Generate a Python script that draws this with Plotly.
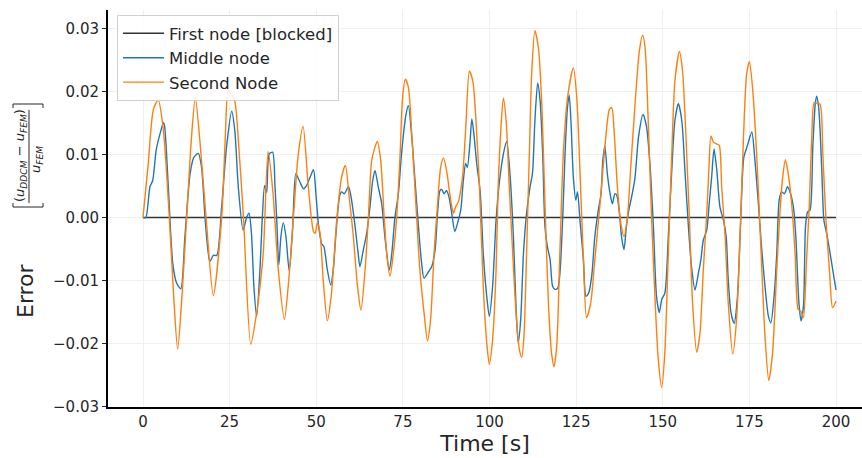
import plotly.graph_objects as go

# Relative error of the two tracked nodes against the FEM reference
t_first = [0, 200]
err_first = [0.0, 0.0]

t_mid = [0, 0.8, 2.0, 2.8, 3.8, 4.9, 5.9, 6.25, 7.3, 8.6, 9.7, 10.9, 12.1, 13.6, 14.7, 15.96, 16.9, 17.9,
         19.3, 20.3, 21.3, 22.7, 24.1, 25.6, 26.5, 27.5, 28.9, 29.9, 30.6, 31.3, 32.0, 32.8, 33.75, 34.4,
         35.1, 35.7, 36.4, 37.4, 38.1, 38.6, 39.2, 39.8, 40.5, 41.25, 42.2, 43.2, 44.1, 45.1, 46.3, 47.2,
         48.2, 49.2, 49.9, 50.6, 51.6, 52.2, 53.2, 54.2, 54.9, 55.7, 56.7, 57.3, 58.1, 59.3, 60.2, 61.2,
         62.1, 62.6, 63.6, 64.55, 65.5, 66.3, 66.95, 67.9, 68.9, 69.8, 71.1, 71.8, 72.7, 73.7, 74.6, 75.9,
         76.6, 77.5, 78.5, 79.5, 80.4, 81.1, 82.4, 83.3, 84.3, 85.0, 85.7, 86.2, 86.9, 87.6, 88.3, 89.1,
         90.0, 91.0, 91.7, 92.45, 93.1, 93.6, 94.4, 94.9, 95.5, 96.3, 97.3, 98.2, 99.2, 99.95, 100.9,
         101.9, 102.8, 104.0, 104.95, 105.9, 106.9, 107.8, 108.3, 109.0, 109.8, 110.7, 111.7, 112.4,
         113.1, 113.9, 114.6, 115.35, 116.0, 116.7, 117.5, 118.2, 118.9, 119.7, 120.3, 121.1, 121.8,
         122.5, 123.0, 123.5, 124.2, 124.9, 125.4, 126.1, 127.1, 127.85, 128.6, 129.5, 130.4, 131.4,
         132.2, 132.7, 133.3, 134.0, 134.8, 135.45, 136.2, 136.7, 137.4, 138.1, 138.8, 139.6, 140.4,
         141.2, 142.0, 143.0, 144.3, 145.3, 146.3, 147.3, 148.2, 149.0, 149.7, 150.6, 151.6, 152.6,
         153.5, 154.5, 155.5, 156.4, 157.4, 158.3, 159.3, 160.3, 161.0, 161.7, 162.7, 163.4, 164.1,
         164.8, 165.6, 166.5, 167.5, 168.3, 168.9, 169.7, 170.6, 171.5, 172.5, 173.4, 174.4, 175.7,
         176.6, 177.6, 178.5, 179.5, 180.5, 181.2, 182.2, 182.9, 183.6, 184.3, 185.1, 186.0, 186.7,
         187.7, 188.4, 189.3, 189.9, 190.6, 191.2, 191.8, 192.5, 193.3, 194.0, 194.4, 195.0, 195.9,
         196.5, 197.3, 198.3, 199.2, 200.0]
err_mid = [0.0, 0.0, 0.0049, 0.0059, 0.0107, 0.0133, 0.0151, 0.0145, 0.0049, -0.0073, -0.0104, -0.0113,
           -0.003, 0.007, 0.0096, 0.0102, 0.008, 0.0, -0.007, -0.006, -0.006, 0.0017, 0.0112, 0.0169,
           0.0138, 0.0049, -0.002, 0.0, 0.0007, -0.0025, -0.0109, -0.0157, -0.0083, -0.0004, 0.0051,
           0.004, 0.0101, 0.0104, 0.0049, -0.0004, -0.0075, -0.003, -0.0008, -0.003, -0.0085, -0.0015,
           0.007, 0.0059, 0.0046, 0.0051, 0.0064, 0.0076, 0.0038, -0.0009, -0.0042, -0.0046, -0.0083,
           -0.0107, -0.0083, -0.0025, 0.0033, 0.0041, 0.0038, 0.0049, 0.0028, -0.0014, -0.0057, -0.0078,
           -0.0051, -0.0025, 0.0017, 0.0059, 0.0075, 0.0049, 0.0022, -0.003, -0.0083, -0.0057, 0.0,
           0.0038, 0.0101, 0.0164, 0.0178, 0.0133, 0.0059, -0.0014, -0.0072, -0.0096, -0.0086, -0.0078,
           -0.0051, 0.0007, 0.0043, 0.0045, 0.0038, 0.0043, 0.0033, 0.0007, -0.0022, -0.0004, 0.0012,
           0.0059, 0.0086, 0.008, 0.0122, 0.0157, 0.0133, 0.0086, 0.0042, -0.0057, -0.0125, -0.0157,
           -0.0109, -0.0004, 0.0054, 0.0101, 0.0121, 0.007, -0.003, -0.0162, -0.0199, -0.0162, -0.0057,
           0.0007, 0.0049, 0.007, 0.0154, 0.0214, 0.0186, 0.0101, -0.0014, -0.0046, -0.0067, -0.0109,
           -0.0114, -0.0112, -0.009, -0.0004, 0.0101, 0.0175, 0.0195, 0.0154, 0.0064, 0.0028, 0.0041,
           -0.0004, -0.0067, -0.0125, -0.012, -0.0093, -0.003, 0.0012, 0.0038, 0.0091, 0.0114, 0.007,
           0.0038, 0.0022, 0.0038, 0.0036, 0.0012, -0.003, -0.0051, -0.0009, 0.0017, 0.0038, 0.0064,
           0.0128, 0.0164, 0.0145, 0.0085, -0.0014, -0.0125, -0.0151, -0.013, -0.012, -0.003, 0.0075,
           0.0154, 0.0181, 0.0154, 0.0075, -0.0014, -0.0078, -0.0115, -0.0088, -0.0067, -0.0036, -0.002,
           0.0022, 0.0064, 0.0109, 0.0075, 0.0017, -0.0004, -0.003, -0.0099, -0.0151, -0.0168, -0.013,
           -0.0004, 0.0096, 0.0114, 0.0136, 0.0091, 0.0022, -0.0046, -0.0109, -0.0157, -0.0167, -0.012,
           -0.0057, 0.0028, 0.0041, 0.0038, 0.0049, 0.0041, 0.0017, -0.003, -0.0136, -0.0164, -0.0141,
           -0.0014, 0.0009, 0.0012, 0.0112, 0.018, 0.0193, 0.0175, 0.0075, -0.0004, -0.0025, -0.0057,
           -0.0088, -0.0115]

t_second = [0, 1.5, 3.0, 4.4, 5.9, 7.6, 8.8, 10.0, 11.3, 12.6, 13.9, 15.1, 16.6, 18.2, 20.3, 22.7, 23.7,
            24.6, 25.6, 26.5, 27.8, 29.0, 31.1, 32.8, 34.7, 36.1, 37.5, 39.0, 40.8, 42.2, 43.4, 44.8,
            46.2, 47.7, 49.2, 49.7, 50.3, 51.1, 52.0, 53.2, 54.4, 55.9, 57.3, 58.4, 59.5, 60.7, 61.9,
            62.9, 64.1, 65.0, 66.0, 66.95, 67.6, 68.6, 69.6, 70.5, 71.3, 72.25, 73.2, 74.2, 74.9, 75.7,
            76.6, 77.5, 78.8, 79.9, 81.1, 82.1, 83.0, 84.0, 84.95, 85.9, 86.7, 87.6, 88.8, 89.6, 90.2,
            91.0, 92.2, 93.1, 94.2, 95.2, 96.1, 97.1, 98.2, 99.2, 99.95, 100.9, 101.9, 102.5, 103.3,
            104.0, 104.8, 105.7, 106.7, 107.6, 108.6, 109.3, 109.95, 110.7, 111.5, 112.2, 113.1, 114.1,
            115.1, 116.0, 117.0, 117.9, 118.6, 119.4, 120.3, 121.3, 122.5, 124.2, 125.2, 126.1, 127.1,
            128.0, 129.2, 130.4, 131.9, 133.3, 134.6, 135.3, 135.9, 136.9, 137.9, 138.8, 139.8, 140.7,
            142.0, 143.25, 144.2, 144.9, 145.8, 146.8, 147.8, 148.7, 149.7, 150.6, 151.6, 152.6, 153.5,
            154.8, 155.7, 156.7, 157.7, 158.6, 159.8, 160.75, 161.7, 162.7, 163.3, 163.9, 164.6, 165.6,
            166.3, 167.0, 168.0, 168.9, 170.2, 171.3, 172.3, 173.3, 174.2, 175.0, 175.9, 177.1, 178.3,
            179.5, 180.6, 181.7, 182.9, 183.8, 184.6, 185.4, 186.2, 187.2, 188.2, 189.1, 189.9, 190.6,
            191.5, 192.3, 193.0, 193.7, 194.4, 195.4, 196.2, 197.1, 198.1, 199.0, 200.0]
err_second = [0.0, 0.0085, 0.0172, 0.0187, 0.0138, 0.0, -0.012, -0.0209, -0.012, 0.0, 0.012, 0.0191,
              0.011, 0.0, -0.0124, 0.0, 0.012, 0.0204, 0.0195, 0.0185, 0.01, 0.0, -0.0201, -0.0151,
              -0.0057, 0.0105, 0.004, -0.008, -0.0162, -0.009, 0.0, 0.01, 0.0145, 0.0049, -0.0022,
              -0.0025, -0.0008, -0.0025, -0.0099, -0.0164, -0.012, -0.0004, 0.0064, 0.0083, 0.0033,
              -0.003, -0.0109, -0.0147, -0.0083, -0.0004, 0.0091, 0.0112, 0.0121, 0.0091, 0.0, -0.0067,
              -0.0093, -0.0057, 0.0, 0.0101, 0.019, 0.022, 0.0207, 0.0138, 0.0017, -0.0083, -0.0151,
              -0.0196, -0.0162, -0.0057, 0.0017, 0.008, 0.0095, 0.0075, 0.0028, 0.0007, 0.0017, 0.0025,
              0.0064, 0.0138, 0.0233, 0.0216, 0.0154, 0.0049, -0.0109, -0.0199, -0.0233, -0.0193,
              -0.0083, 0.0049, 0.0143, 0.019, 0.0154, 0.0049, -0.0057, -0.0146, -0.0209, -0.0222,
              -0.0188, -0.0057, 0.0101, 0.0233, 0.0297, 0.027, 0.018, 0.0022, -0.0136, -0.0215, -0.0237,
              -0.0204, -0.0057, 0.0101, 0.019, 0.0238, 0.019, 0.0075, -0.0067, -0.0159, -0.0136, -0.0067,
              0.0022, 0.0112, 0.0172, 0.0175, 0.0143, 0.0049, -0.0009, -0.003, 0.0, 0.0075, 0.018, 0.0265,
              0.029, 0.027, 0.0154, -0.0004, -0.0133, -0.0225, -0.027, -0.0214, -0.0057, 0.0101, 0.0217,
              0.0264, 0.0233, 0.0128, -0.0004, -0.0136, -0.0214, -0.0183, -0.0083, 0.0007, 0.0075, 0.013,
              0.012, 0.0117, 0.0115, 0.0049, -0.003, -0.0136, -0.0217, -0.0162, -0.003, 0.0128, 0.0228,
              0.0248, 0.0207, 0.0101, -0.0046, -0.0188, -0.0259, -0.0214, -0.0083, 0.0007, 0.0064,
              0.0092, 0.007, 0.0022, -0.0057, -0.0146, -0.0149, -0.0159, -0.0067, 0.0022, 0.0128, 0.0183,
              0.0182, 0.018, 0.0101, -0.0004, -0.0083, -0.0143, -0.0133]

x_ticks = [0, 25, 50, 75, 100, 125, 150, 175, 200]
y_ticks = [-0.03, -0.02, -0.01, 0.0, 0.01, 0.02, 0.03]

FONT = "DejaVu Sans"
W, H = 862, 458
ML, MR, MT, MB = 108, 0, 10, 51
PW, PH = W - ML - MR, H - MT - MB


def px_x(px):
    return (px - ML) / PW


def px_y(py):
    return (H - MB - py) / PH


fig = go.Figure()
fig.add_trace(go.Scatter(x=t_first, y=err_first, mode="lines", name="First node [blocked]",
                         line=dict(color="#333333", width=1.5)))
fig.add_trace(go.Scatter(x=t_mid, y=err_mid, mode="lines", name="Middle node",
                         line=dict(color="#1f77b4", width=1.4, shape="spline", smoothing=0.7)))
fig.add_trace(go.Scatter(x=t_second, y=err_second, mode="lines", name="Second Node",
                         line=dict(color="#ff7f0e", width=1.4, shape="spline", smoothing=0.7)))

fig.update_layout(
    width=W, height=H,
    margin=dict(l=ML, r=MR, t=MT, b=MB),
    paper_bgcolor="white", plot_bgcolor="white",
    font=dict(family=FONT, color="#262626", size=15),
    showlegend=True,
    legend=dict(x=px_x(117), y=px_y(15), xanchor="left", yanchor="top",
                bgcolor="rgba(255,255,255,0.85)", bordercolor="#d0d0d0", borderwidth=1,
                font=dict(family=FONT, size=16.5, color="#262626"), itemwidth=41,
                tracegroupgap=0),
    xaxis=dict(range=[-10.1, 207.5], tickvals=x_ticks, ticktext=[str(v) for v in x_ticks],
               showgrid=True, gridcolor="#efefef", gridwidth=1, zeroline=False,
               showline=True, linecolor="black", linewidth=2, ticks="", tickfont=dict(size=15),
               title=dict(text="Time [s]", font=dict(size=22, family=FONT), standoff=6)),
    yaxis=dict(range=[-0.0301, 0.0330], tickvals=y_ticks,
               ticktext=["\u22120.03", "\u22120.02", "\u22120.01", "0.00", "0.01", "0.02", "0.03"],
               showgrid=True, gridcolor="#efefef", gridwidth=1, zeroline=False,
               showline=True, linecolor="black", linewidth=2, ticks="outside", ticklen=4,
               tickcolor="#262626", tickfont=dict(size=15)),
)

# Rotated y-axis label: "Error" with the relative-error fraction in brackets
fig.add_annotation(text="Error", xref="paper", yref="paper", x=px_x(25), y=px_y(291),
                   xanchor="center", yanchor="middle", textangle=-90, showarrow=False,
                   font=dict(size=22, family=FONT, color="#262626"))
fig.add_annotation(text="(<i>u</i><sub><i>DDCM</i></sub> \u2212 <i>u</i><sub><i>FEM</i></sub>)",
                   xref="paper", yref="paper", x=px_x(20), y=px_y(156),
                   xanchor="center", yanchor="middle", textangle=-90, showarrow=False,
                   font=dict(size=13, family=FONT, color="#262626"))
fig.add_annotation(text="<i>u</i><sub><i>FEM</i></sub>",
                   xref="paper", yref="paper", x=px_x(37), y=px_y(160),
                   xanchor="center", yanchor="middle", textangle=-90, showarrow=False,
                   font=dict(size=13, family=FONT, color="#262626"))

line_style = dict(color="#262626", width=1)
# fraction bar
fig.add_shape(type="line", xref="paper", yref="paper", x0=px_x(29), x1=px_x(29),
              y0=px_y(110), y1=px_y(203), line=line_style)
# brackets around the fraction
for yb, hook in ((104, 4), (207, -4)):
    fig.add_shape(type="line", xref="paper", yref="paper", x0=px_x(13), x1=px_x(43),
                  y0=px_y(yb), y1=px_y(yb), line=line_style)
    for xb in (13, 43):
        fig.add_shape(type="line", xref="paper", yref="paper", x0=px_x(xb), x1=px_x(xb),
                      y0=px_y(yb), y1=px_y(yb + hook), line=line_style)

fig.write_html("out.html")
